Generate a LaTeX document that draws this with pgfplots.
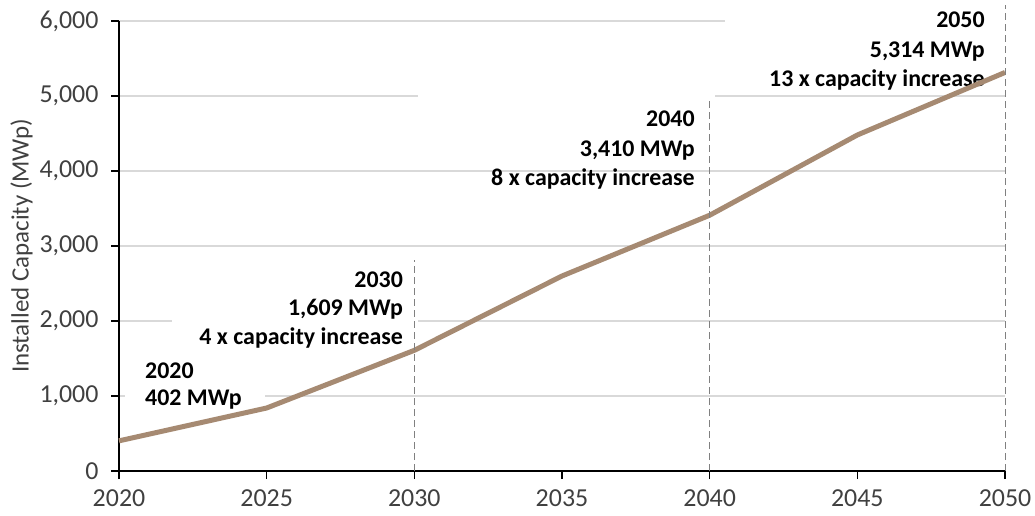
\documentclass[border=0pt]{standalone}
\usepackage{fontspec}
\setmainfont{Carlito}
\usepackage{pgfplots}
\pgfplotsset{compat=1.18}
\definecolor{linec}{RGB}{166,138,114}
\definecolor{gridc}{RGB}{217,217,217}
\definecolor{dashc}{RGB}{128,128,128}
\definecolor{txt}{RGB}{64,64,64}
\begin{document}
\begin{tikzpicture}
\begin{axis}[name=ax, scale only axis, width=886bp, height=450bp,
  xmin=2020, xmax=2050, ymin=0, ymax=6000,
  xtick={2020,2025,2030,2035,2040,2045,2050},
  xticklabels={2020,2025,2030,2035,2040,2045,2050},
  ytick={0,1000,2000,3000,4000,5000,6000},
  yticklabels={0,{1,000},{2,000},{3,000},{4,000},{5,000},{6,000}},
  ymajorgrids, grid style={gridc, line width=1.3bp},
  axis x line*=bottom, axis y line*=left,
  axis line style={-, black, line width=1.3bp},
  tick align=outside, major tick length=8bp,
  tick style={black, line width=1.3bp},
  ticklabel style={font=\fontsize{26}{30}\selectfont, text=txt},
  xticklabel style={yshift=-7bp},
  yticklabel style={xshift=-9bp},
  ylabel={Installed Capacity (MWp)},
  ylabel style={font=\fontsize{25}{30}\selectfont, text=txt, yshift=0bp},
  clip=false,
]
% white backgrounds of annotation boxes
\fill[white] (axis cs:2020.2,747) rectangle (axis cs:2024.94,1613);
\fill[white] (axis cs:2021.79,1680) rectangle (axis cs:2030.12,2787);
\fill[white] (axis cs:2030.12,4147) rectangle (axis cs:2040.18,5147);
\fill[white] (axis cs:2040.52,5107) rectangle (axis cs:2050,6280);
% annotations
\begin{scope}[every node/.style={inner sep=0pt, font=\bfseries\fontsize{24}{29}\selectfont, text=black}]
\node[anchor=base west] at (axis cs:2020.88,1240) {2020};
\node[anchor=base west] at (axis cs:2020.88,867) {402 MWp};
\node[anchor=base east] at (axis cs:2029.62,2453) {2030};
\node[anchor=base east] at (axis cs:2029.62,2080) {1,609 MWp};
\node[anchor=base east] at (axis cs:2029.62,1693) {4 x capacity increase};
\node[anchor=base east] at (axis cs:2039.50,4587) {2040};
\node[anchor=base east] at (axis cs:2039.50,4187) {3,410 MWp};
\node[anchor=base east] at (axis cs:2039.50,3813) {8 x capacity increase};
\node[anchor=base east] at (axis cs:2049.32,5907) {2050};
\node[anchor=base east] at (axis cs:2049.32,5507) {5,314 MWp};
\node[anchor=base east] at (axis cs:2049.32,5133) {13 x capacity increase};
\end{scope}
% data line
\addplot[linec, line width=5bp, line join=round, mark=none]
  coordinates {(2020,402) (2025,840) (2030,1609) (2035,2600) (2040,3410) (2045,4480) (2050,5314)};
% dashed reference lines
\addplot[dashc, line width=1bp, dash pattern=on 7bp off 4bp, mark=none] coordinates {(2030,0) (2030,2810)};
\addplot[dashc, line width=1bp, dash pattern=on 7bp off 4bp, mark=none] coordinates {(2040,0) (2040,4947)};
\addplot[dashc, line width=1bp, dash pattern=on 7bp off 4bp, mark=none] coordinates {(2050,0) (2050,6213)};
\end{axis}
\pgfresetboundingbox
\path[use as bounding box] ([shift={(-119bp,-45bp)}]ax.south west) rectangle ([shift={(30bp,21bp)}]ax.north east);
\end{tikzpicture}
\end{document}
